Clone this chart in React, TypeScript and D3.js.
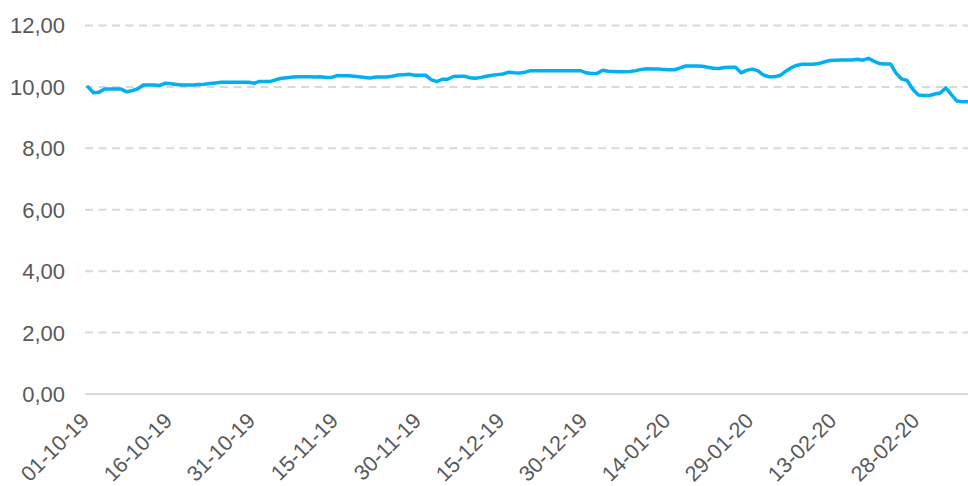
import React from "react";
import * as d3 from "d3";

// Daily values from 01-10-19 to 08-03-20 (one row per 7 days)
const values: number[] = [
  10.0, 9.81, 9.83, 9.93, 9.93, 9.93, 9.93,
  9.84, 9.88, 9.94, 10.06, 10.06, 10.06, 10.05,
  10.12, 10.1, 10.08, 10.06, 10.06, 10.06, 10.08,
  10.09, 10.11, 10.13, 10.15, 10.15, 10.15, 10.15,
  10.15, 10.15, 10.12, 10.18, 10.18, 10.18, 10.24,
  10.28, 10.3, 10.32, 10.33, 10.33, 10.33, 10.32,
  10.33, 10.31, 10.31, 10.37, 10.36, 10.36, 10.35,
  10.33, 10.31, 10.29, 10.32, 10.32, 10.32, 10.35,
  10.39, 10.4, 10.41, 10.38, 10.38, 10.38, 10.24,
  10.17, 10.25, 10.25, 10.34, 10.35, 10.35, 10.3,
  10.28, 10.31, 10.35, 10.38, 10.4, 10.42, 10.48,
  10.46, 10.45, 10.48, 10.53, 10.53, 10.53, 10.53,
  10.53, 10.53, 10.53, 10.53, 10.53, 10.53, 10.46,
  10.44, 10.44, 10.54, 10.51, 10.5, 10.49, 10.49,
  10.5, 10.53, 10.57, 10.59, 10.58, 10.58, 10.57,
  10.56, 10.56, 10.62, 10.68, 10.68, 10.68, 10.67,
  10.64, 10.61, 10.6, 10.63, 10.64, 10.64, 10.46,
  10.54, 10.58, 10.53, 10.39, 10.33, 10.33, 10.37,
  10.5, 10.62, 10.7, 10.74, 10.74, 10.74, 10.76,
  10.81, 10.86, 10.87, 10.88, 10.88, 10.88, 10.9,
  10.87, 10.93, 10.84, 10.76, 10.75, 10.75, 10.45,
  10.26, 10.21, 9.93, 9.74, 9.72, 9.72, 9.77,
  9.8, 9.97, 9.75, 9.54, 9.52, 9.52,
];

const startDate = "01-10-19";
const endDate = "08-03-20";

const xTickLabels: string[] = [
  "01-10-19", "16-10-19", "31-10-19", "15-11-19", "30-11-19", "15-12-19",
  "30-12-19", "14-01-20", "29-01-20", "13-02-20", "28-02-20",
];

const yTicks: number[] = [0, 2, 4, 6, 8, 10, 12];

const W = 968;
const H = 486;

export default function App() {
  const parse = d3.timeParse("%d-%m-%y");
  const start = parse(startDate)!;
  const end = parse(endDate)!;
  const dates = d3.timeDay.range(start, d3.timeDay.offset(end, 1));
  const data = dates.map((d, i) => ({ date: d, value: values[i] }));

  const x = d3.scaleTime().domain([start, end]).range([88, 968]);
  const y = d3.scaleLinear().domain([0, 12]).range([394, 25.5]);

  const line = d3
    .line<{ date: Date; value: number }>()
    .x((d) => x(d.date))
    .y((d) => y(d.value));

  const fmt = (v: number) => v.toFixed(2).replace(".", ",");
  const font = "'Liberation Sans', Arial, sans-serif";

  return (
    <svg
      width={W}
      height={H}
      style={{ position: "absolute", left: 0, top: 0, display: "block", background: "#fff" }}
    >
      {yTicks.map((t) => (
        <g key={t}>
          <line
            x1={85}
            x2={W}
            y1={y(t)}
            y2={y(t)}
            stroke="#d9d9d9"
            strokeWidth={2}
            strokeDasharray={t === 0 ? undefined : "8,5.5"}
          />
          <text
            x={65}
            y={y(t)}
            dy="0.36em"
            textAnchor="end"
            fontFamily={font}
            fontSize={22}
            fill="#595959"
          >
            {fmt(t)}
          </text>
        </g>
      ))}
      {xTickLabels.map((l) => {
        const tx = x(parse(l)!) + 2.5;
        const ty = 422;
        return (
          <text
            key={l}
            x={tx}
            y={ty}
            textAnchor="end"
            transform={`rotate(-45 ${tx} ${ty})`}
            fontFamily={font}
            fontSize={21.5}
            fill="#595959"
          >
            {l}
          </text>
        );
      })}
      <path
        d={line(data) || ""}
        fill="none"
        stroke="#00B0F0"
        strokeWidth={3.5}
        strokeLinejoin="round"
        strokeLinecap="round"
      />
    </svg>
  );
}
